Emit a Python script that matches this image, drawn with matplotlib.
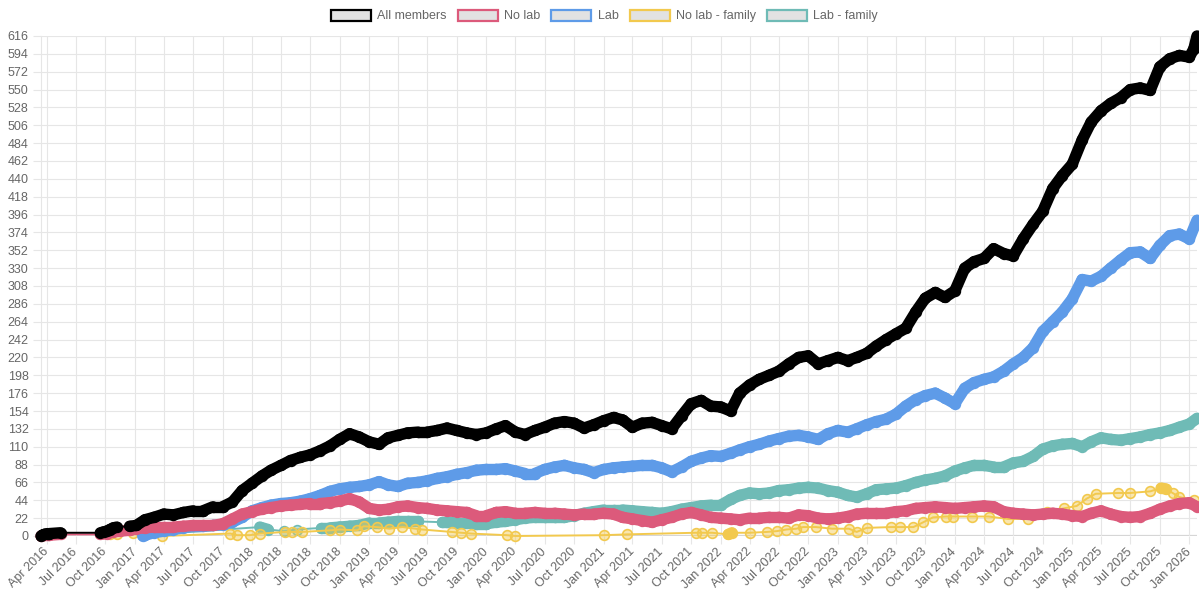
import numpy as np
import pandas as pd
import matplotlib
matplotlib.use("Agg")
import matplotlib.pyplot as plt
import matplotlib.dates as mdates
from matplotlib.collections import LineCollection
from matplotlib.patches import Patch

plt.rcParams['font.family'] = ['Liberation Sans', 'DejaVu Sans']

# ---- data ----
labels = ["All members", "No lab", "Lab", "No lab - family", "Lab - family"]
colors = ["#000000", "#dc5a7b", "#5e9be8", "#f2c94e", "#6fbbb6"]

# All members
black_early_dates = ["2016-03-14", "2016-03-18", "2016-03-24", "2016-04-02", "2016-04-09", "2016-05-14",
                     "2016-09-15", "2016-09-25", "2016-10-05", "2016-10-15", "2016-10-25", "2016-11-05",
                     "2016-12-15", "2017-01-05"]
black_early = [0, 1, 2, 3, 3, 4, 4, 5, 6, 8, 10, 11, 12, 13]
black_month_start = "2017-02-01"
black_monthly = [20, 23, 27, 26, 29, 31, 31, 36, 36, 42, 56,
                 65, 74, 81, 87, 93, 97, 100, 105, 111, 119, 126, 122,
                 116, 113, 121, 124, 127, 128, 128, 130, 133, 130, 127, 125,
                 127, 132, 136, 128, 125, 130, 134, 139, 141, 139, 133, 137,
                 142, 146, 143, 134, 139, 140, 136, 132, 148, 163, 167, 160,
                 159, 154, 176, 186, 193, 198, 203, 212, 220, 222, 212, 216,
                 220, 216, 220, 225, 234, 242, 249, 256, 276, 293, 300, 294,
                 302, 330, 338, 342, 354, 348, 345, 366, 384, 400, 428, 444,
                 458, 488, 510, 524, 533, 540, 550, 552, 549, 578, 588, 592,
                 590]
black_late_dates = ["2026-01-15", "2026-01-25"]
black_late = [600, 616]

# No lab
pink_early_dates = ["2016-03-14", "2016-03-24", "2016-04-09", "2016-05-14", "2016-09-15", "2016-10-05",
                    "2016-10-25", "2016-11-15", "2016-12-15", "2017-01-05"]
pink_early = [0, 1, 1, 2, 2, 3, 5, 6, 7, 9]
pink_month_start = "2017-02-01"
pink_monthly = [10, 11, 11, 11, 12, 13, 13, 13, 15, 21, 27,
                30, 33, 35, 37, 38, 39, 40, 40, 41, 43, 46, 42,
                34, 32, 33, 36, 37, 35, 34, 32, 31, 30, 29, 25,
                25, 29, 30, 28, 28, 29, 28, 28, 27, 26, 27, 27,
                28, 27, 23, 21, 19, 17, 20, 23, 27, 29, 26, 23,
                22, 21, 20, 22, 22, 23, 23, 22, 26, 25, 22, 21,
                22, 24, 27, 28, 28, 28, 30, 31, 34, 35, 36, 35,
                34, 35, 36, 37, 36, 30, 28, 27, 26, 27, 28, 27,
                25, 24, 28, 31, 27, 24, 23, 24, 28, 33, 37, 40,
                41]
pink_late_dates = ["2026-01-25"]
pink_late = [36]

# Lab
blue_early_dates = ["2017-01-25"]
blue_early = [0]
blue_month_start = "2017-02-01"
blue_monthly = [1, 4, 6, 8, 10, 12, 12, 13, 14, 17, 23,
                31, 35, 38, 40, 41, 43, 46, 50, 55, 58, 60, 61,
                63, 67, 63, 61, 65, 66, 68, 71, 73, 76, 78, 81,
                82, 82, 83, 80, 77, 77, 82, 85, 87, 84, 82, 78,
                82, 84, 85, 86, 87, 87, 84, 79, 85, 92, 96, 99,
                98, 102, 106, 110, 113, 117, 120, 123, 124, 122, 119, 126,
                130, 128, 132, 137, 141, 144, 150, 160, 168, 173, 176, 170,
                163, 182, 189, 193, 196, 203, 212, 220, 232, 252, 264, 276,
                292, 316, 314, 320, 330, 340, 349, 350, 342, 358, 370, 372,
                366]
blue_late_dates = ["2026-01-25"]
blue_late = [389]

# No lab - family
yellow_dates = ["2016-10-15", "2016-11-05", "2016-12-25", "2017-03-25", "2017-10-25", "2017-11-15",
                "2017-12-25", "2018-01-25", "2018-04-15", "2018-05-05", "2018-06-05", "2018-09-01",
                "2018-10-01", "2018-11-25", "2018-12-15", "2019-01-25", "2019-03-05", "2019-04-15",
                "2019-05-25", "2019-06-15", "2019-09-15", "2019-10-15", "2019-11-15", "2020-03-05",
                "2020-04-01", "2021-01-01", "2021-03-15", "2021-10-15", "2021-11-05", "2021-12-05",
                "2022-01-25", "2022-02-05", "2022-04-01", "2022-05-25", "2022-06-25", "2022-07-25",
                "2022-08-25", "2022-09-15", "2022-10-25", "2022-12-15", "2023-02-05", "2023-03-01",
                "2023-04-01", "2023-06-15", "2023-07-15", "2023-08-25", "2023-09-25", "2023-10-25",
                "2023-12-05", "2023-12-25", "2024-02-25", "2024-04-15", "2024-06-15", "2024-08-15",
                "2024-10-15", "2024-12-05", "2025-01-15", "2025-02-15", "2025-03-15", "2025-05-25",
                "2025-07-01", "2025-09-01", "2025-10-05", "2025-10-20", "2025-11-10", "2025-12-01",
                "2026-01-15"]
yellow_vals = [3, 3, 4, 0, 3, 1, 1, 3, 5, 5, 5, 7,
               8, 7, 12, 11, 9, 11, 9, 8, 5, 4, 3, 1,
               0, 1, 2, 4, 4, 4, 2, 4, 4, 5, 6, 8,
               9, 11, 11, 9, 9, 5, 10, 11, 11, 11, 17, 23,
               24, 24, 24, 24, 21, 21, 30, 34, 37, 46, 52, 53,
               53, 55, 59, 58, 53, 48, 44]

# Lab - family
teal_early_dates = ["2017-01-25", "2018-01-25", "2018-02-20", "2018-04-10", "2018-05-20", "2018-08-05",
                    "2018-09-01", "2018-10-01", "2018-11-01", "2018-12-01", "2019-01-01", "2019-02-01",
                    "2019-03-01", "2019-04-01", "2019-05-01", "2019-06-01", "2019-08-15"]
teal_early = [1, 11, 8, 6, 8, 10, 10, 11, 12, 13, 16, 16, 17, 18, 18, 18, 17]
teal_month_start = "2019-09-01"
teal_monthly = [17, 16, 16, 15,
                15, 17, 18, 20, 22, 23, 23, 23, 23, 25, 28, 30,
                32, 32, 32, 31, 30, 29, 28, 30, 33, 35, 37, 38,
                38, 45, 50, 53, 52, 53, 56, 57, 59, 60, 59, 56,
                54, 50, 48, 52, 57, 58, 59, 62, 66, 69, 71, 74,
                80, 84, 87, 87, 85, 85, 90, 92, 98, 107, 111, 113,
                114, 110, 116, 121, 119, 118, 120, 122, 125, 127, 130, 134,
                138]
teal_late_dates = ["2026-01-25"]
teal_late = [145]


def build(early_dates, early, start=None, monthly=(), late_dates=(), late=()):
    d = list(pd.to_datetime(early_dates))
    if start is not None:
        d += list(pd.date_range(start, periods=len(monthly), freq="MS"))
    d += list(pd.to_datetime(list(late_dates)))
    v = list(early) + list(monthly) + list(late)
    return mdates.date2num(d), np.array(v, dtype=float)


series = [
    build(black_early_dates, black_early, black_month_start, black_monthly, black_late_dates, black_late),
    build(pink_early_dates, pink_early, pink_month_start, pink_monthly, pink_late_dates, pink_late),
    build(blue_early_dates, blue_early, blue_month_start, blue_monthly, blue_late_dates, blue_late),
    build(yellow_dates, yellow_vals),
    build(teal_early_dates, teal_early, teal_month_start, teal_monthly, teal_late_dates, teal_late),
]
# yellow is a sparse series: only very close points merge into a band
dense_gap = [35, 35, 35, 18, 35]

fig = plt.figure(figsize=(11.99, 5.96), dpi=100)
ax = fig.add_axes([41 / 1199, 60 / 596, 1156 / 1199, 500 / 596])

# first dataset on top, like chart.js
for i, ((x, y), c) in enumerate(zip(series, colors)):
    z = 10 - i
    ax.plot(x, y, color=c, lw=1.4, zorder=z, clip_on=False)
    gaps = np.diff(x)
    segs = [[(x[k], y[k]), (x[k + 1], y[k + 1])] for k in range(len(x) - 1) if gaps[k] <= dense_gap[i]]
    ax.add_collection(LineCollection(segs, colors=c, linewidths=8.2, capstyle="round",
                                     zorder=z, clip_on=False))
    face = matplotlib.colors.to_rgba(c, 0.12 if c == "#000000" else 0.45)
    ax.plot(x, y, ls="none", marker="o", ms=7, mfc=face, mec=c, mew=1.2,
            zorder=z, clip_on=False)

ax.set_xlim(mdates.date2num(pd.Timestamp("2016-03-14")), mdates.date2num(pd.Timestamp("2026-01-25")))
ax.set_ylim(0, 616)
ax.set_yticks(np.arange(0, 617, 22))
ax.xaxis.set_major_locator(mdates.MonthLocator(bymonth=[1, 4, 7, 10]))
ax.xaxis.set_major_formatter(mdates.DateFormatter("%b %Y"))

ax.grid(True, color="#e6e6e6", lw=0.8)
ax.set_axisbelow(True)
ax.axhline(0, color="#d6d6d6", lw=1.6, zorder=0.5)
for s in ["top", "right", "bottom"]:
    ax.spines[s].set_visible(False)
ax.spines["left"].set_color("#e6e6e6")
ax.spines["left"].set_linewidth(0.8)

ax.tick_params(axis="y", length=6, width=0.8, color="#e6e6e6", labelcolor="#666666", labelsize=9, pad=3)
ax.tick_params(axis="x", length=6, width=0.8, color="#e6e6e6", labelcolor="#666666", labelsize=9, pad=4)
for lbl in ax.get_xticklabels():
    lbl.set_rotation(45)
    lbl.set_ha("right")
    lbl.set_va("center")
    lbl.set_rotation_mode("anchor")

handles = [Patch(facecolor="#e2e2e2", edgecolor=c, linewidth=1.6) for c in colors]
fig.legend(handles, labels, loc="center", bbox_to_anchor=(0.504, 1 - 16 / 596), ncol=5,
           frameon=False, fontsize=9, labelcolor="#666666", handlelength=3.2, handleheight=0.96,
           handletextpad=0.5, columnspacing=0.9, borderaxespad=0)

fig.savefig("out.png", dpi=100)
